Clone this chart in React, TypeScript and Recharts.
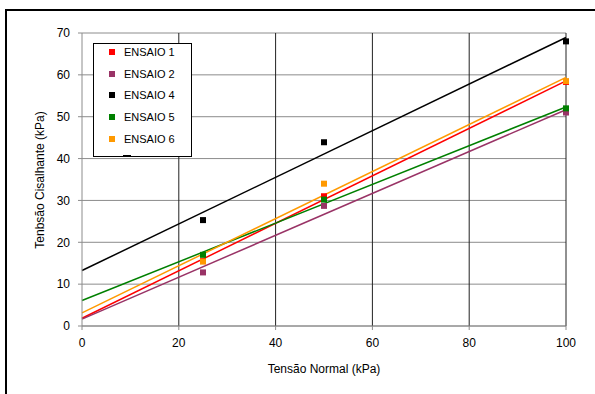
import React from 'react';
import {
  ComposedChart, Scatter, Line, XAxis, YAxis, CartesianGrid, Label,
} from 'recharts';

// normal stress levels used in every test (kPa)
const normalStress = [25, 50, 100];

// measured shear stress per test (kPa)
const ensaio1 = [15.5, 31, 58.3];
const ensaio2 = [12.8, 28.7, 51];
const ensaio4 = [25.3, 43.9, 68];
const ensaio5 = [17, 30.2, 52];
const ensaio6 = [15.4, 34, 58.5];

const xTicks = [0, 20, 40, 60, 80, 100];
const yTicks = [0, 10, 20, 30, 40, 50, 60, 70];

const SERIES = [
  { name: 'ENSAIO 1', values: ensaio1, color: '#FF0000' },
  { name: 'ENSAIO 2', values: ensaio2, color: '#993366' },
  { name: 'ENSAIO 4', values: ensaio4, color: '#000000' },
  { name: 'ENSAIO 5', values: ensaio5, color: '#008000' },
  { name: 'ENSAIO 6', values: ensaio6, color: '#FF9900' },
];

const FONT = '"Liberation Sans", Arial, sans-serif';

// least squares fit, extended across the whole x range
function trendline(xs: number[], ys: number[]) {
  const n = xs.length;
  const mx = xs.reduce((a, b) => a + b, 0) / n;
  const my = ys.reduce((a, b) => a + b, 0) / n;
  let sxy = 0, sxx = 0;
  xs.forEach((x, i) => {
    sxy += (x - mx) * (ys[i] - my);
    sxx += (x - mx) * (x - mx);
  });
  const slope = sxy / sxx;
  const intercept = my - slope * mx;
  return [0, 100].map(x => ({ x, y: intercept + slope * x }));
}

const SquareDot = (props: any) => {
  const { cx, cy, fill } = props;
  return <rect x={cx - 3} y={cy - 3} width={6} height={6} fill={fill} />;
};

// legend box sitting over the upper left of the plot
const LegendBox = () => (
  <div
    style={{
      position: 'absolute', left: 93, top: 43, width: 97, height: 112,
      border: '1px solid #000', background: '#fff', overflow: 'hidden',
      fontFamily: FONT, fontSize: 11, color: '#000',
    }}
  >
    {SERIES.map((s, i) => (
      <div key={s.name} style={{ position: 'absolute', left: 15, top: 1 + i * 21.7, height: 14, display: 'flex', alignItems: 'center' }}>
        <span style={{ width: 6, height: 6, background: s.color, display: 'inline-block', marginRight: 9 }} />
        <span>{s.name}</span>
      </div>
    ))}
    <div style={{ position: 'absolute', left: 29, top: 111, width: 8, height: 1, background: '#000' }} />
  </div>
);

export default function App() {
  return (
    <div style={{ position: 'absolute', left: 0, top: 0, width: 595, height: 394, background: '#fff', overflow: 'hidden' }}>
      <div style={{ position: 'absolute', left: 5, top: 9, width: 620, height: 420, border: '2px solid #000' }} />
      <div style={{ position: 'absolute', left: 0, top: 0 }}>
        <ComposedChart
          width={595}
          height={394}
          margin={{ top: 33, right: 29, bottom: 38, left: 42 }}
          style={{ fontFamily: FONT }}
        >
          <CartesianGrid horizontal vertical={false} stroke="#8c8c8c" strokeWidth={1} />
          <CartesianGrid horizontal={false} vertical verticalValues={[20, 40, 60, 80, 100]} stroke="#222" strokeWidth={1} />
          <XAxis
            type="number"
            dataKey="x"
            domain={[0, 100]}
            ticks={xTicks}
            height={30}
            stroke="#8c8c8c"
            tickSize={4}
            tickMargin={8}
            tick={{ fill: '#000', fontSize: 12 }}
            allowDuplicatedCategory={false}
          >
            <Label value="Tensão Normal (kPa)" position="bottom" offset={8} fill="#000" fontSize={12} />
          </XAxis>
          <YAxis
            type="number"
            dataKey="y"
            domain={[0, 70]}
            ticks={yTicks}
            width={40}
            stroke="#8c8c8c"
            tickSize={4}
            tickMargin={8}
            tick={{ fill: '#000', fontSize: 12 }}
          >
            <Label
              content={() => (
                <text x={44} y={180} transform="rotate(-90 44 180)" textAnchor="middle" fill="#000" fontSize={12} fontFamily={FONT}>
                  Tenbsão Cisalhante (kPa)
                </text>
              )}
            />
          </YAxis>
          {SERIES.map(s => (
            <Line
              key={`trend-${s.name}`}
              data={trendline(normalStress, s.values)}
              dataKey="y"
              stroke={s.color}
              strokeWidth={1.5}
              dot={false}
              activeDot={false}
              legendType="none"
              isAnimationActive={false}
            />
          ))}
          {SERIES.map(s => (
            <Scatter
              key={s.name}
              name={s.name}
              data={normalStress.map((x, i) => ({ x, y: s.values[i] }))}
              dataKey="y"
              fill={s.color}
              shape={<SquareDot />}
              isAnimationActive={false}
            />
          ))}
        </ComposedChart>
      </div>
      <LegendBox />
    </div>
  );
}
